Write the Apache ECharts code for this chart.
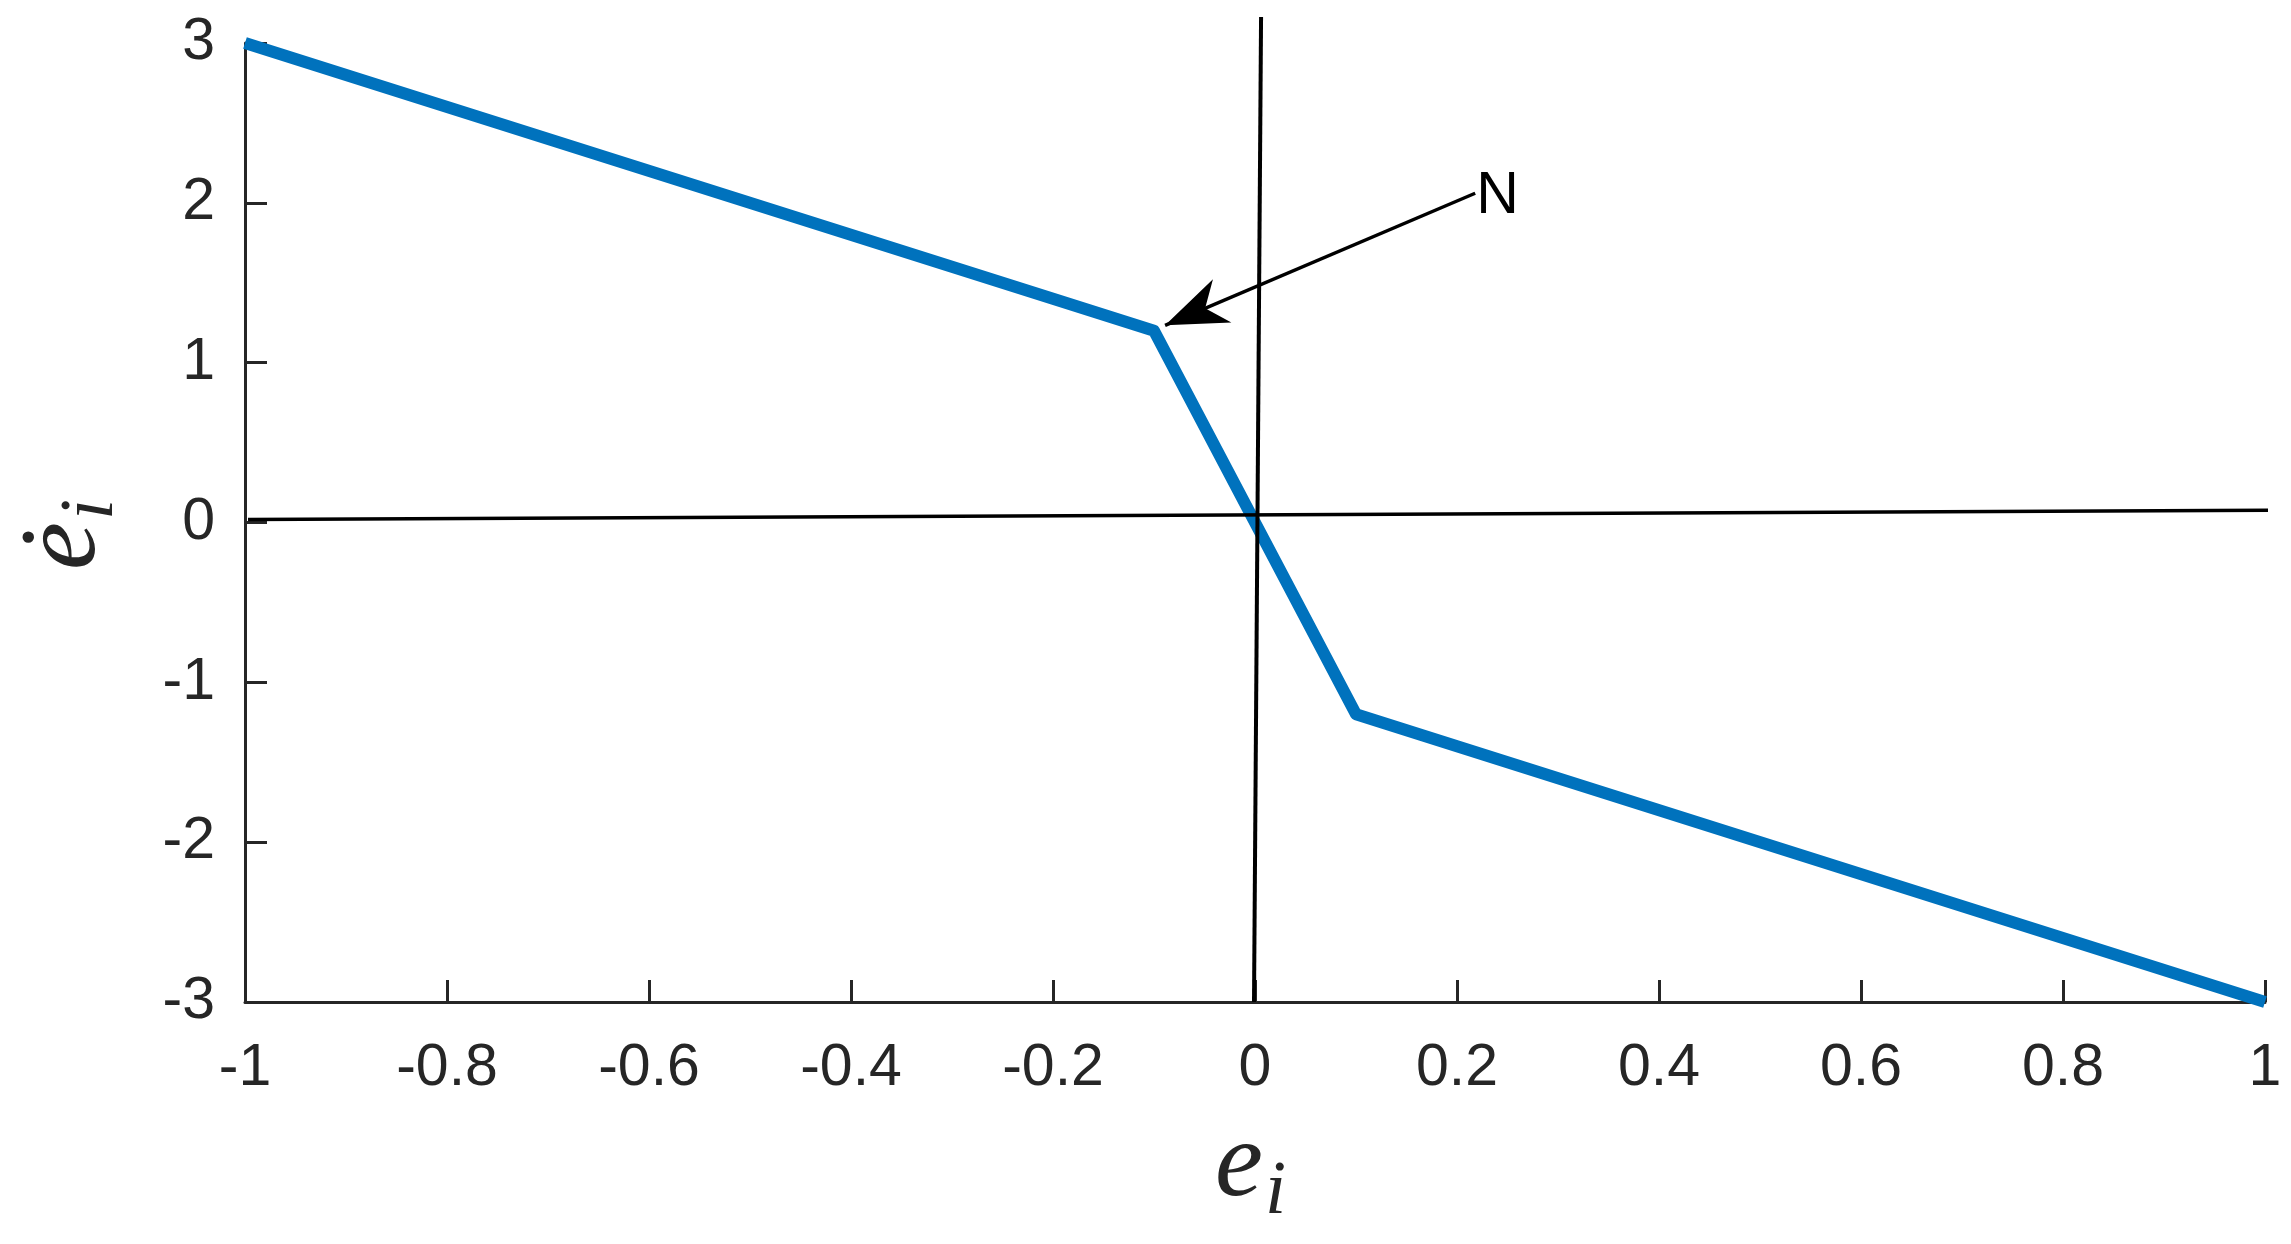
<!DOCTYPE html>
<html><head><meta charset="utf-8">
<script src="https://cdn.jsdelivr.net/npm/echarts@6/dist/echarts.min.js"></script>
<style>html,body{margin:0;padding:0;background:#fff}#c{width:2291px;height:1244px}</style>
</head><body><div id="c"></div>
<script>
// ---- data ----
const eValues    = [-1, -0.2, -0.1, 0, 0.1, 0.2, 1];
const eDotValues = [3, 1.4, 1.2, 0, -1.2, -1.4, -3];
const xRange = [-1, 1];
const yRange = [-3, 3];
const xTickStep = 0.2;
const yTickStep = 1;
// annotation lines (data coordinates, as drawn in the figure)
const hLineX = [-0.997, 1.007];
const hLineY = [0.019, 0.076];
const vLineX = [-0.001, 0.006];
const vLineY = [-3, 3.163];
const arrowX = [0.218, -0.089];
const arrowY = [2.06, 1.234];
const arrowText = 'N';
const xName = ['e', 'i'];
const yName = ['\u0117', 'i'];

const zip = (a, b) => a.map((v, i) => [v, b[i]]);

const chart = echarts.init(document.getElementById('c'), null, {renderer: 'canvas'});
const AX = '#262626';
const labelFont = {fontFamily: 'Liberation Sans', fontSize: 59, color: AX};

chart.setOption({
  animation: false,
  backgroundColor: '#fff',
  grid: {left: 245, right: 26, top: 43, bottom: 242, containLabel: false, outerBoundsMode: 'none'},
  xAxis: {
    type: 'value', min: xRange[0], max: xRange[1], interval: xTickStep,
    axisLine: {show: true, onZero: false, lineStyle: {color: AX, width: 3}},
    axisTick: {show: true, inside: true, length: 22, lineStyle: {color: AX, width: 3}},
    axisLabel: Object.assign({margin: 37, showMinLabel: true, showMaxLabel: true,
      formatter: v => String(Math.round(v * 10) / 10)}, labelFont),
    splitLine: {show: false}
  },
  yAxis: {
    type: 'value', min: yRange[0], max: yRange[1], interval: yTickStep,
    axisLine: {show: true, onZero: false, lineStyle: {color: AX, width: 3}},
    axisTick: {show: true, inside: true, length: 22, lineStyle: {color: AX, width: 3}},
    axisLabel: Object.assign({margin: 30, showMinLabel: true, showMaxLabel: true}, labelFont),
    splitLine: {show: false}
  },
  series: [
    {type: 'line', data: zip(eValues, eDotValues), showSymbol: false, symbol: 'none', clip: false, z: 3,
     lineStyle: {color: '#0072BD', width: 12, join: 'round'}},
    {type: 'line', data: zip(hLineX, hLineY), symbol: 'none', clip: false, z: 5,
     lineStyle: {color: '#000', width: 3.5}},
    {type: 'line', data: zip(vLineX, vLineY), symbol: 'none', clip: false, z: 5,
     lineStyle: {color: '#000', width: 4}},
    {type: 'line', data: zip(arrowX, arrowY), symbol: 'none', clip: false, z: 5,
     lineStyle: {color: '#000', width: 3.5}}
  ]
});

// arrow head + text labels
const start = chart.convertToPixel({gridIndex: 0}, [arrowX[0], arrowY[0]]);
const tip = chart.convertToPixel({gridIndex: 0}, [arrowX[1], arrowY[1]]);
const dx = start[0] - tip[0], dy = start[1] - tip[1];
const L = Math.hypot(dx, dy);
const u = [dx / L, dy / L], p = [-u[1], u[0]];
const headLen = 62, headHalf = 23.5, notch = 43.5;
const head = [
  tip,
  [tip[0] + u[0] * headLen + p[0] * headHalf, tip[1] + u[1] * headLen + p[1] * headHalf],
  [tip[0] + u[0] * notch, tip[1] + u[1] * notch],
  [tip[0] + u[0] * headLen - p[0] * headHalf, tip[1] + u[1] * headLen - p[1] * headHalf]
];

const eS = 108, iS = 76;
function nameGroup(parts, x, y, rot) {
  return {
    type: 'group', x: x, y: y, rotation: rot,
    children: [
      {type: 'text', x: 0, y: -0.3375 * eS, style: {text: parts[0], fill: AX,
        font: 'italic ' + eS + 'px "Liberation Serif"', align: 'left', verticalAlign: 'middle'}},
      {type: 'text', x: 50, y: 16 - 0.3375 * iS, style: {text: parts[1], fill: AX,
        font: 'italic ' + iS + 'px "Liberation Serif"', align: 'left', verticalAlign: 'middle'}}
    ]
  };
}

chart.setOption({
  graphic: [
    {type: 'polygon', shape: {points: head}, style: {fill: '#000'}, z: 10},
    {type: 'text', x: start[0] + 1, y: start[1] + 3, z: 10,
     style: {text: arrowText, fill: '#000', font: '59px "Liberation Sans"', align: 'left', verticalAlign: 'middle'}},
    nameGroup(xName, 1215, 1203, 0),
    nameGroup(yName, 102, 570, Math.PI / 2)
  ]
});
</script>
</body></html>
